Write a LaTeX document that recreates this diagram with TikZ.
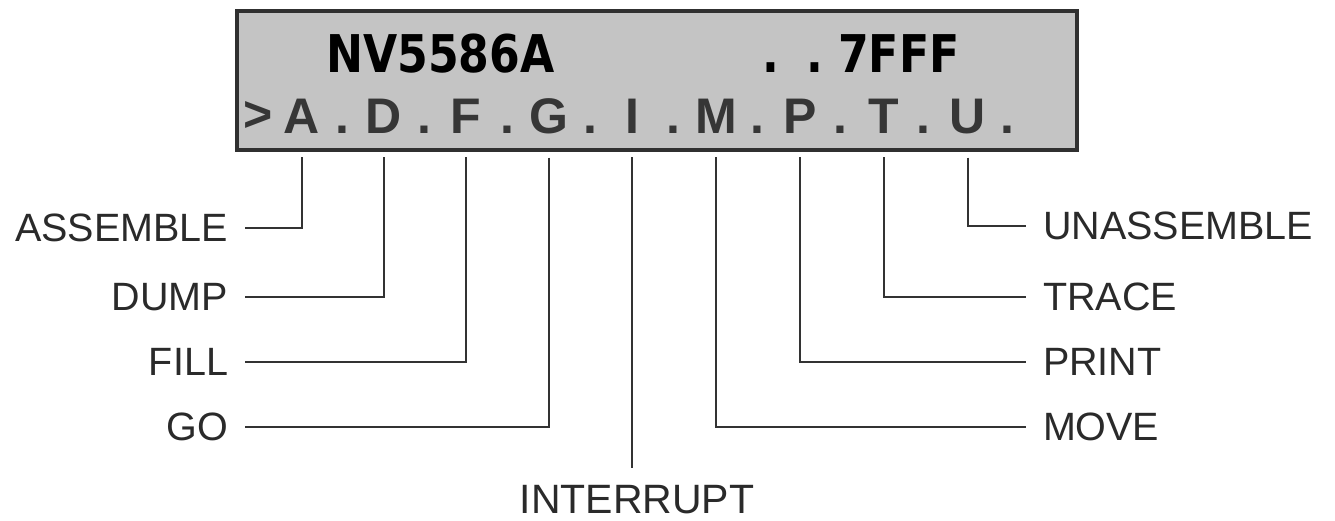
\documentclass[tikz,border=0pt]{standalone}
\usepackage{fontspec}
\setmainfont{Liberation Sans}
\newfontfamily\lcdtop{DejaVu Sans}[FakeStretch=0.85]
\definecolor{lcdfill}{HTML}{C4C4C4}
\definecolor{lcdframe}{HTML}{303030}
\definecolor{keygray}{HTML}{363636}
\definecolor{labelgray}{HTML}{2A2A2A}
\definecolor{linegray}{HTML}{333333}
\begin{document}
\begin{tikzpicture}[x=1pt,y=-1pt,
  lbl/.style={font=\fontsize{39.5}{40}\selectfont, text=labelgray, inner sep=0pt, outer xsep=17pt},
  keych/.style={font=\fontsize{50}{50}\selectfont\bfseries, text=keygray, inner sep=0pt, anchor=base},
  topch/.style={font=\lcdtop\bfseries\fontsize{52}{52}\selectfont, text=black, inner sep=0pt, anchor=base west},
  conn/.style={draw=linegray, line width=2pt}]
\useasboundingbox (0,0) rectangle (1335,520);
% LCD panel
\node[draw=lcdframe, fill=lcdfill, line width=3.5pt, minimum width=840pt, minimum height=139pt,
      anchor=north west, inner sep=0pt] (lcd) at (235,9) {};
% top row
\node[topch] (nv) at (326,72) {NV5586A};
\node[topch] (dota) at (762,72) {.};
\node[topch] (dotb) at (806,72) {.};
\node[topch] (fff) at (838,72) {7FFF};
% bottom row
\node[keych] (gt) at (258,131) {>};
\node[keych] (lA) at (302,133) {A};
\node[keych] (p1) at (342,133) {.};
\node[keych] (lD) at (384,133) {D};
\node[keych] (p2) at (424,133) {.};
\node[keych] (lF) at (466,133) {F};
\node[keych] (p3) at (507,133) {.};
\node[keych] (lG) at (549,133) {G};
\node[keych] (p4) at (590,133) {.};
\node[keych] (lI) at (632,133) {I};
\node[keych] (p5) at (673,133) {.};
\node[keych] (lM) at (716,133) {M};
\node[keych] (p6) at (757,133) {.};
\node[keych] (lP) at (800,133) {P};
\node[keych] (p7) at (840,133) {.};
\node[keych] (lT) at (884,133) {T};
\node[keych] (p8) at (923,133) {.};
\node[keych] (lU) at (968,133) {U};
\node[keych] (p9) at (1007,133) {.};
% labels left
\node[lbl, anchor=east] (asm) at (245,228) {ASSEMBLE};
\node[lbl, anchor=east] (dump) at (245,297) {DUMP};
\node[lbl, anchor=east] (fill) at (245,362) {FILL};
\node[lbl, anchor=east] (go) at (245,427) {GO};
% labels right
\node[lbl, anchor=west] (unasm) at (1026,226) {UNASSEMBLE};
\node[lbl, anchor=west] (trace) at (1026,297) {TRACE};
\node[lbl, anchor=west] (print) at (1026,362) {PRINT};
\node[lbl, anchor=west] (move) at (1026,427) {MOVE};
% bottom label
\node[lbl, font=\fontsize{41}{41}\selectfont, anchor=north, outer xsep=0pt, outer ysep=17pt] (intr) at (637,468) {INTERRUPT};
% connectors
\draw[conn] ([yshift=-24pt]lA.south) |- (asm.east);
\draw[conn] ([yshift=-24pt]lD.south) |- (dump.east);
\draw[conn] ([yshift=-24pt]lF.south) |- (fill.east);
\draw[conn] ([yshift=-24pt]lG.south) |- (go.east);
\draw[conn] ([yshift=-24pt]lI.south) -- (lI.south |- intr.north);
\draw[conn] ([yshift=-24pt]lM.south) |- (move.west);
\draw[conn] ([yshift=-24pt]lP.south) |- (print.west);
\draw[conn] ([yshift=-24pt]lT.south) |- (trace.west);
\draw[conn] ([yshift=-24pt]lU.south) |- (unasm.west);
\end{tikzpicture}
\end{document}
